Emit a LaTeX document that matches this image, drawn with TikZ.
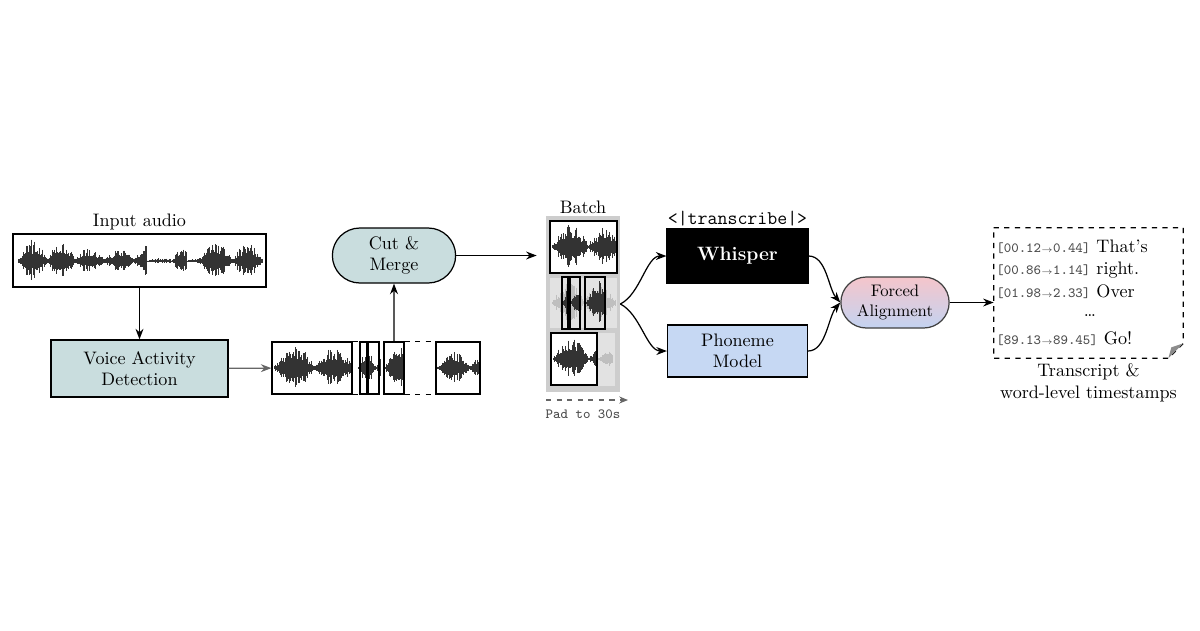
\documentclass[tikz,border=0pt]{standalone}
\usepackage{amsmath,amssymb}
\usepackage{xcolor}
\usepackage{tikz}
\usetikzlibrary{shapes.misc,arrows.meta}

\definecolor{vadteal}{HTML}{C9DDDE}
\definecolor{phonblue}{HTML}{C6D8F3}
\definecolor{fapink}{HTML}{F5C5CB}
\definecolor{fablue}{HTML}{C3D3F1}
\definecolor{batchgray}{HTML}{CDCDCD}
\definecolor{stripgray}{HTML}{E2E2E2}

% waveform: x0, x1, ymid, amplitude, seed, bump frequency, colour
\newcommand{\wavefm}[7]{%
  \pgfmathsetseed{#5}%
  \pgfmathtruncatemacro{\wvN}{(#2-#1)}%
  \foreach \i in {0,...,\wvN}{%
    \pgfmathsetmacro{\wvE}{0.1+0.9*abs(sin(\i*#6))*(0.7+0.3*sin(\i*#6*0.41+40))}%
    \pgfmathsetmacro{\wvH}{#4*\wvE*(0.25+0.75*rnd)}%
    \pgfmathsetmacro{\wvC}{#4*\wvE*(0.3+0.2*rnd)}%
    \draw[#7, line width=0.28pt] (#1+\i,#3-\wvH) -- (#1+\i,#3+\wvH*0.9);
    \draw[#7, line width=0.5pt] (#1+\i,#3-\wvC) -- (#1+\i,#3+\wvC);
  }%
}
% time stamp in the transcript
\newcommand{\stamp}[2]{{\fontsize{8}{9}\ttfamily\color{black!70}[#1${\scriptscriptstyle\rightarrow}$#2]}}

\begin{document}
\begin{tikzpicture}[x=0.02cm, y=-0.02cm,
    box/.style={draw, line width=0.7pt, align=center, inner sep=2pt},
    pill/.style={draw, rounded rectangle, line width=0.7pt, align=center},
    seg/.style={draw, line width=0.7pt, minimum height=1.04cm, inner sep=0pt},
    arr/.style={-{Stealth[length=6pt,width=4.5pt]}, line width=0.7pt},
    font=\fontsize{10.3}{12.3}\selectfont
]
    \fill[white] (0,0) rectangle (1200,630);

    % input audio
    \draw[black!30, line width=0.3pt] (18,261) -- (262,261);
    \wavefm{18}{146}{261}{23}{11}{6.25}{black!80}
    \wavefm{146}{172}{261}{3}{12}{6}{black!80}
    \wavefm{172}{186}{261}{14}{13}{9}{black!80}
    \wavefm{186}{200}{261}{3}{14}{6}{black!80}
    \wavefm{200}{262}{261}{20}{15}{5.6}{black!80}
    \node[box, minimum width=5.06cm, minimum height=1.06cm, label={[inner sep=2pt]above:Input audio}] (input) at (139.5,260.5) {};
    \node[box, fill=vadteal, minimum width=3.54cm, minimum height=1.14cm] (vad) at (139.5,368.5) {Voice Activity\\Detection};

    % segments
    \wavefm{274}{350}{368}{23}{21}{4.4}{black!80}
    \wavefm{358}{380}{368}{17}{22}{10}{black!80}
    \wavefm{385}{403}{368}{23}{23}{6.25}{black!80}
    \wavefm{437}{479}{368}{17}{24}{5.6}{black!80}
    \node[seg, minimum width=1.6cm] (seg1) at (312,368) {};
    \node[seg, minimum width=0.14cm] (seg2) at (363.5,368) {};
    \node[seg, minimum width=0.22cm] (seg3) at (373.5,368) {};
    \node[seg, minimum width=0.4cm] (seg4) at (394,368) {};
    \node[seg, minimum width=0.88cm] (seg5) at (458,368) {};
    \draw[dashed, line width=0.7pt] (seg1.north east) -- (seg2.north west) (seg1.south east) -- (seg2.south west);
    \draw[dashed, line width=0.7pt] (seg4.north east) -- (seg5.north west) (seg4.south east) -- (seg5.south west);

    \node[pill, fill=vadteal, minimum width=2.7cm, minimum height=1.1cm] (cut) at (394,255.5) {Cut \&\\Merge};

    % batch
    \node[fill=batchgray, minimum width=1.48cm, minimum height=3.52cm, inner sep=0pt, label={[inner sep=1pt]above:Batch}] (batch) at (583,304) {};
    \fill[white] (550,221) rectangle (617,273);
    \wavefm{552}{615}{247}{24}{31}{5}{black!80}
    \draw[line width=0.7pt] (550,221) rectangle (617,273);
    \fill[stripgray] (550,278) rectangle (617,328);
    \wavefm{552}{615}{303}{21}{32}{5.6}{black!25}
    \wavefm{563}{567}{303}{21}{33}{12.5}{black!80}
    \wavefm{571}{579}{303}{21}{34}{9.4}{black!80}
    \wavefm{586}{604}{303}{23}{35}{6.25}{black!80}
    \draw[line width=0.7pt] (562,277) rectangle (568,329) (570,277) rectangle (580,329) (585,277) rectangle (605,329);
    \fill[stripgray] (551,333) rectangle (615,386);
    \fill[white] (551,333) rectangle (597,385);
    \wavefm{553}{595}{359}{21}{36}{5}{black!80}
    \wavefm{597}{612}{359}{8}{37}{6.25}{black!25}
    \draw[line width=0.7pt] (551,333) rectangle (597,385);

    \coordinate (padl) at (546,400);
    \coordinate (padr) at (628,400);
    \draw[-{Stealth[length=5pt,width=4pt]}, dashed, black!60, line width=0.6pt] (padl) -- (padr);
    \node[font=\fontsize{8}{10}\ttfamily, text=black!70] (pad) at (583,414) {Pad to 30s};

    % models
    \node[box, fill=black, text=white, font=\fontsize{11}{13}\bfseries, minimum width=2.82cm, minimum height=1.08cm,
          label={[font=\fontsize{11}{13}\ttfamily, inner sep=1pt]above:<|transcribe|>}] (whisper) at (737.5,256) {Whisper};
    \node[box, fill=phonblue, minimum width=2.8cm, minimum height=1.04cm] (phon) at (737.5,351) {Phoneme\\Model};
    \node[pill, draw=black!75, top color=fapink, bottom color=fablue, font=\fontsize{9.5}{11.5}\selectfont,
          minimum width=2.4cm, minimum height=1.02cm] (fa) at (895,302.5) {Forced\\Alignment};

    % transcript
    \node[minimum width=3.78cm, minimum height=2.6cm, inner sep=0pt,
          label={[align=center, inner sep=3pt]below:Transcript \&\\word-level timestamps}] (trans) at (1088.5,293) {};
    \draw[dashed, line width=0.7pt] (trans.north west) -- (trans.north east) -- ([yshift=0.3cm]trans.south east)
        -- ([xshift=-0.3cm]trans.south east) -- (trans.south west) -- cycle;
    \fill[black!45] ([yshift=0.3cm]trans.south east) -- ([xshift=-0.3cm]trans.south east) -- ([xshift=-0.24cm,yshift=0.22cm]trans.south east) -- cycle;
    \node[anchor=west, inner sep=0pt] (w1) at (996,247) {\stamp{00.12}{0.44} That's};
    \node[anchor=west, inner sep=0pt] (w2) at (996,270) {\stamp{00.86}{1.14} right.};
    \node[anchor=west, inner sep=0pt] (w3) at (996,292) {\stamp{01.98}{2.33} Over};
    \node (wdots) at (1090,316) {\dots};
    \node[anchor=west, inner sep=0pt] (w4) at (996,339) {\stamp{89.13}{89.45} Go!};

    % connectors
    \draw[arr] (input) -- (vad);
    \draw[arr, black!60] (vad) -- (seg1);
    \draw[arr] (seg4) -- (cut);
    \draw[arr, shorten >=0.18cm] (cut.east) -- (cut.east -| batch.west);
    \draw[arr] (batch.east) .. controls +(20,-10) and +(-20,0) .. (whisper.west);
    \draw[arr] (batch.east) .. controls +(20,10) and +(-20,0) .. (phon.west);
    \draw[arr] (whisper.east) .. controls +(18,0) and +(-12,-14) .. (fa.west);
    \draw[arr] (phon.east) .. controls +(18,0) and +(-12,14) .. (fa.west);
    \draw[arr] (fa.east) -- (fa.east -| trans.west);
\end{tikzpicture}
\end{document}
